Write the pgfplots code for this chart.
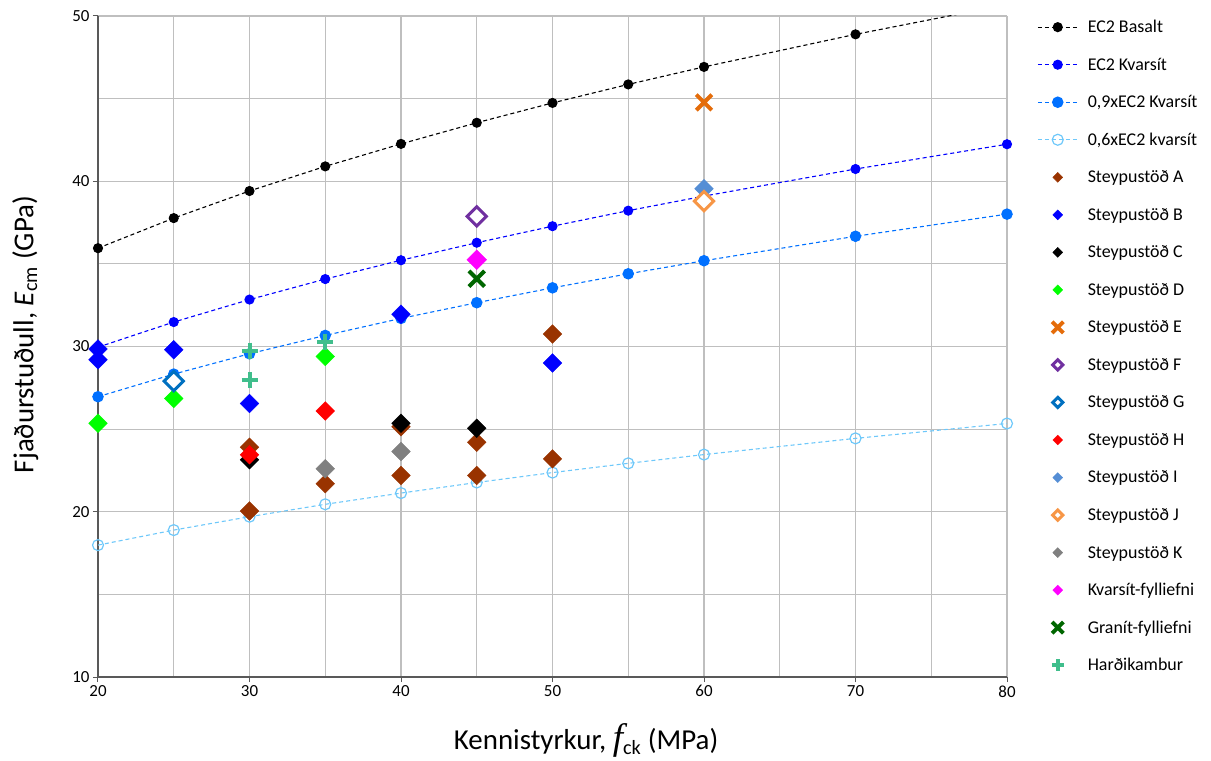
\documentclass[border=0pt]{standalone}
\usepackage{fontspec}
\setmainfont{Carlito}
\newfontfamily\ffam{Liberation Serif}
\usepackage{pgfplots}
\pgfplotsset{compat=1.18}
\definecolor{cBas}{RGB}{0,0,0}
\definecolor{cKv}{RGB}{0,0,255}
\definecolor{cKv9}{RGB}{0,112,255}
\definecolor{cKv6}{RGB}{110,200,250}
\definecolor{cA}{RGB}{153,51,0}
\definecolor{cB}{RGB}{0,0,255}
\definecolor{cC}{RGB}{0,0,0}
\definecolor{cD}{RGB}{0,255,0}
\definecolor{cE}{RGB}{228,108,10}
\definecolor{cF}{RGB}{112,48,160}
\definecolor{cG}{RGB}{0,112,192}
\definecolor{cH}{RGB}{255,0,0}
\definecolor{cI}{RGB}{85,142,213}
\definecolor{cJ}{RGB}{247,150,70}
\definecolor{cK}{RGB}{128,128,128}
\definecolor{cQ}{RGB}{255,0,255}
\definecolor{cGr}{RGB}{0,102,0}
\definecolor{cHa}{RGB}{64,190,140}
\pgfplotsset{
  lineleg/.style={legend image code/.code={\path[draw=none] (0bp,0bp) -- (50bp,0bp);
      \draw[##1,mark indices={2}] plot coordinates {(0bp,0bp)(20bp,0bp)(40bp,0bp)};}},
  markleg/.style={legend image code/.code={\path[draw=none] (0bp,0bp) -- (46bp,0bp);
      \draw[##1,only marks,mark size=#1] plot coordinates {(20bp,0bp)};}},
  dashln/.style={line width=1.1bp, dash pattern=on 4bp off 3bp},
  fdia/.style={only marks, mark=square*, mark size=6.6bp, mark options={rotate=45, fill=#1, draw=#1}, color=#1, markleg=3.5bp},
  odia/.style={only marks, mark=square*, mark size=6.8bp, mark options={rotate=45, fill=white, draw=#1, line width=3bp}, color=#1, markleg=3.6bp},
}
\begin{document}
\begin{tikzpicture}
\begin{axis}[
  name=ax,
  x=15.15bp, y=16.525bp,
  xmin=20, xmax=80, ymin=10, ymax=50,
  axis x line=bottom, axis y line=left,
  axis line style={-, draw=black!65, line width=1.2bp},
  xtick={20,30,...,80}, ytick={10,20,...,50},
  minor xtick={25,35,...,75}, minor ytick={15,25,35,45},
  grid=both,
  major grid style={draw=black!25, line width=1.1bp},
  minor grid style={draw=black!25, line width=1.1bp},
  tick style={draw=black!65, line width=1bp},
  major tick length=5bp, minor tick length=0bp,
  tick align=outside,
  ticklabel style={font=\fontsize{17}{20}\selectfont},
  /pgf/number format/assume math mode=true,
  xlabel={Kennistyrkur, {\ffam\itshape\fontsize{37}{37}\selectfont f}\textsubscript{ck} (MPa)},
  ylabel={Fjaðurstuðull, \textit{E}\textsubscript{cm} (GPa)},
  label style={font=\fontsize{29}{33}\selectfont},
  xlabel style={at={(axis description cs:0.537,-0.0953)}, anchor=center},
  ylabel style={at={(axis description cs:-0.08,0.518)}, anchor=center},
  legend style={at={(axis description cs:1,1)}, anchor=north west, xshift=30bp, yshift=7.8bp,
    draw=none, fill=none, inner sep=0pt, row sep=0pt,
    font=\fontsize{18}{21}\selectfont,
    nodes={inner sep=0pt, text height=24.2bp, text depth=13.33bp}},
  legend cell align=left,
]
\addplot[cBas, dashln, mark=*, mark size=4.5bp, mark options={solid, fill=cBas}, mark indices={1,2,3,4,5,6,7,8,9,10}, lineleg]
  coordinates {(20,35.95)(25,37.77)(30,39.41)(35,40.90)(40,42.26)(45,43.54)(50,44.74)(55,45.86)(60,46.92)(70,48.89)(80,50.69)};
\addlegendentry{EC2 Basalt}
\addplot[cKv, dashln, mark=*, mark size=4.5bp, mark options={solid, fill=cKv}, lineleg]
  coordinates {(20,29.96)(25,31.48)(30,32.84)(35,34.08)(40,35.22)(45,36.28)(50,37.28)(55,38.22)(60,39.10)(70,40.74)(80,42.24)};
\addlegendentry{EC2 Kvarsít}
\addplot[cKv9, dashln, mark=*, mark size=5.2bp, mark options={solid, fill=cKv9}, lineleg]
  coordinates {(20,26.96)(25,28.33)(30,29.56)(35,30.67)(40,31.70)(45,32.65)(50,33.55)(55,34.40)(60,35.19)(70,36.67)(80,38.01)};
\addlegendentry{0,9xEC2 Kvarsít}
\addplot[cKv6, dashln, mark=o, mark size=5.5bp, mark options={solid, line width=1.2bp}, lineleg]
  coordinates {(20,17.98)(25,18.89)(30,19.70)(35,20.45)(40,21.13)(45,21.77)(50,22.37)(55,22.93)(60,23.46)(70,24.44)(80,25.34)};
\addlegendentry{0,6xEC2 kvarsít}
\addplot[fdia=cA] coordinates {(30,23.9)(30,20.05)(35,21.7)(40,25.15)(40,22.2)(45,24.2)(45,22.2)(50,30.75)(50,23.2)};
\addlegendentry{Steypustöð A}
\addplot[fdia=cB] coordinates {(20,29.85)(20,29.2)(25,29.8)(30,26.55)(40,31.95)(50,29.0)};
\addlegendentry{Steypustöð B}
\addplot[fdia=cC] coordinates {(30,23.15)(40,25.35)(45,25.05)};
\addlegendentry{Steypustöð C}
\addplot[fdia=cD] coordinates {(20,25.35)(25,26.85)(35,29.4)};
\addlegendentry{Steypustöð D}
\addplot[only marks, color=cE, mark=x, mark size=11bp, mark options={line width=4bp}, markleg=8bp] coordinates {(60,44.77)};
\addlegendentry{Steypustöð E}
\addplot[odia=cF] coordinates {(45,37.87)};
\addlegendentry{Steypustöð F}
\addplot[odia=cG] coordinates {(25,27.9)};
\addlegendentry{Steypustöð G}
\addplot[fdia=cH] coordinates {(30,23.45)(35,26.1)};
\addlegendentry{Steypustöð H}
\addplot[fdia=cI] coordinates {(60,39.55)};
\addlegendentry{Steypustöð I}
\addplot[odia=cJ] coordinates {(60,38.8)};
\addlegendentry{Steypustöð J}
\addplot[fdia=cK] coordinates {(35,22.6)(40,23.65)};
\addlegendentry{Steypustöð K}
\addplot[fdia=cQ, mark size=7bp] coordinates {(45,35.25)};
\addlegendentry{Kvarsít-fylliefni}
\addplot[only marks, color=cGr, mark=x, mark size=11bp, mark options={line width=4bp}, markleg=8bp] coordinates {(45,34.1)};
\addlegendentry{Granít-fylliefni}
\addplot[only marks, color=cHa, mark=+, mark size=8bp, mark options={line width=4bp}, markleg=6bp] coordinates {(30,29.75)(30,27.95)(35,30.25)};
\addlegendentry{Harðikambur}
\end{axis}
\path ([xshift=-98bp,yshift=-81bp]ax.south west) rectangle ([xshift=204bp,yshift=16bp]ax.north east);
\end{tikzpicture}
\end{document}
